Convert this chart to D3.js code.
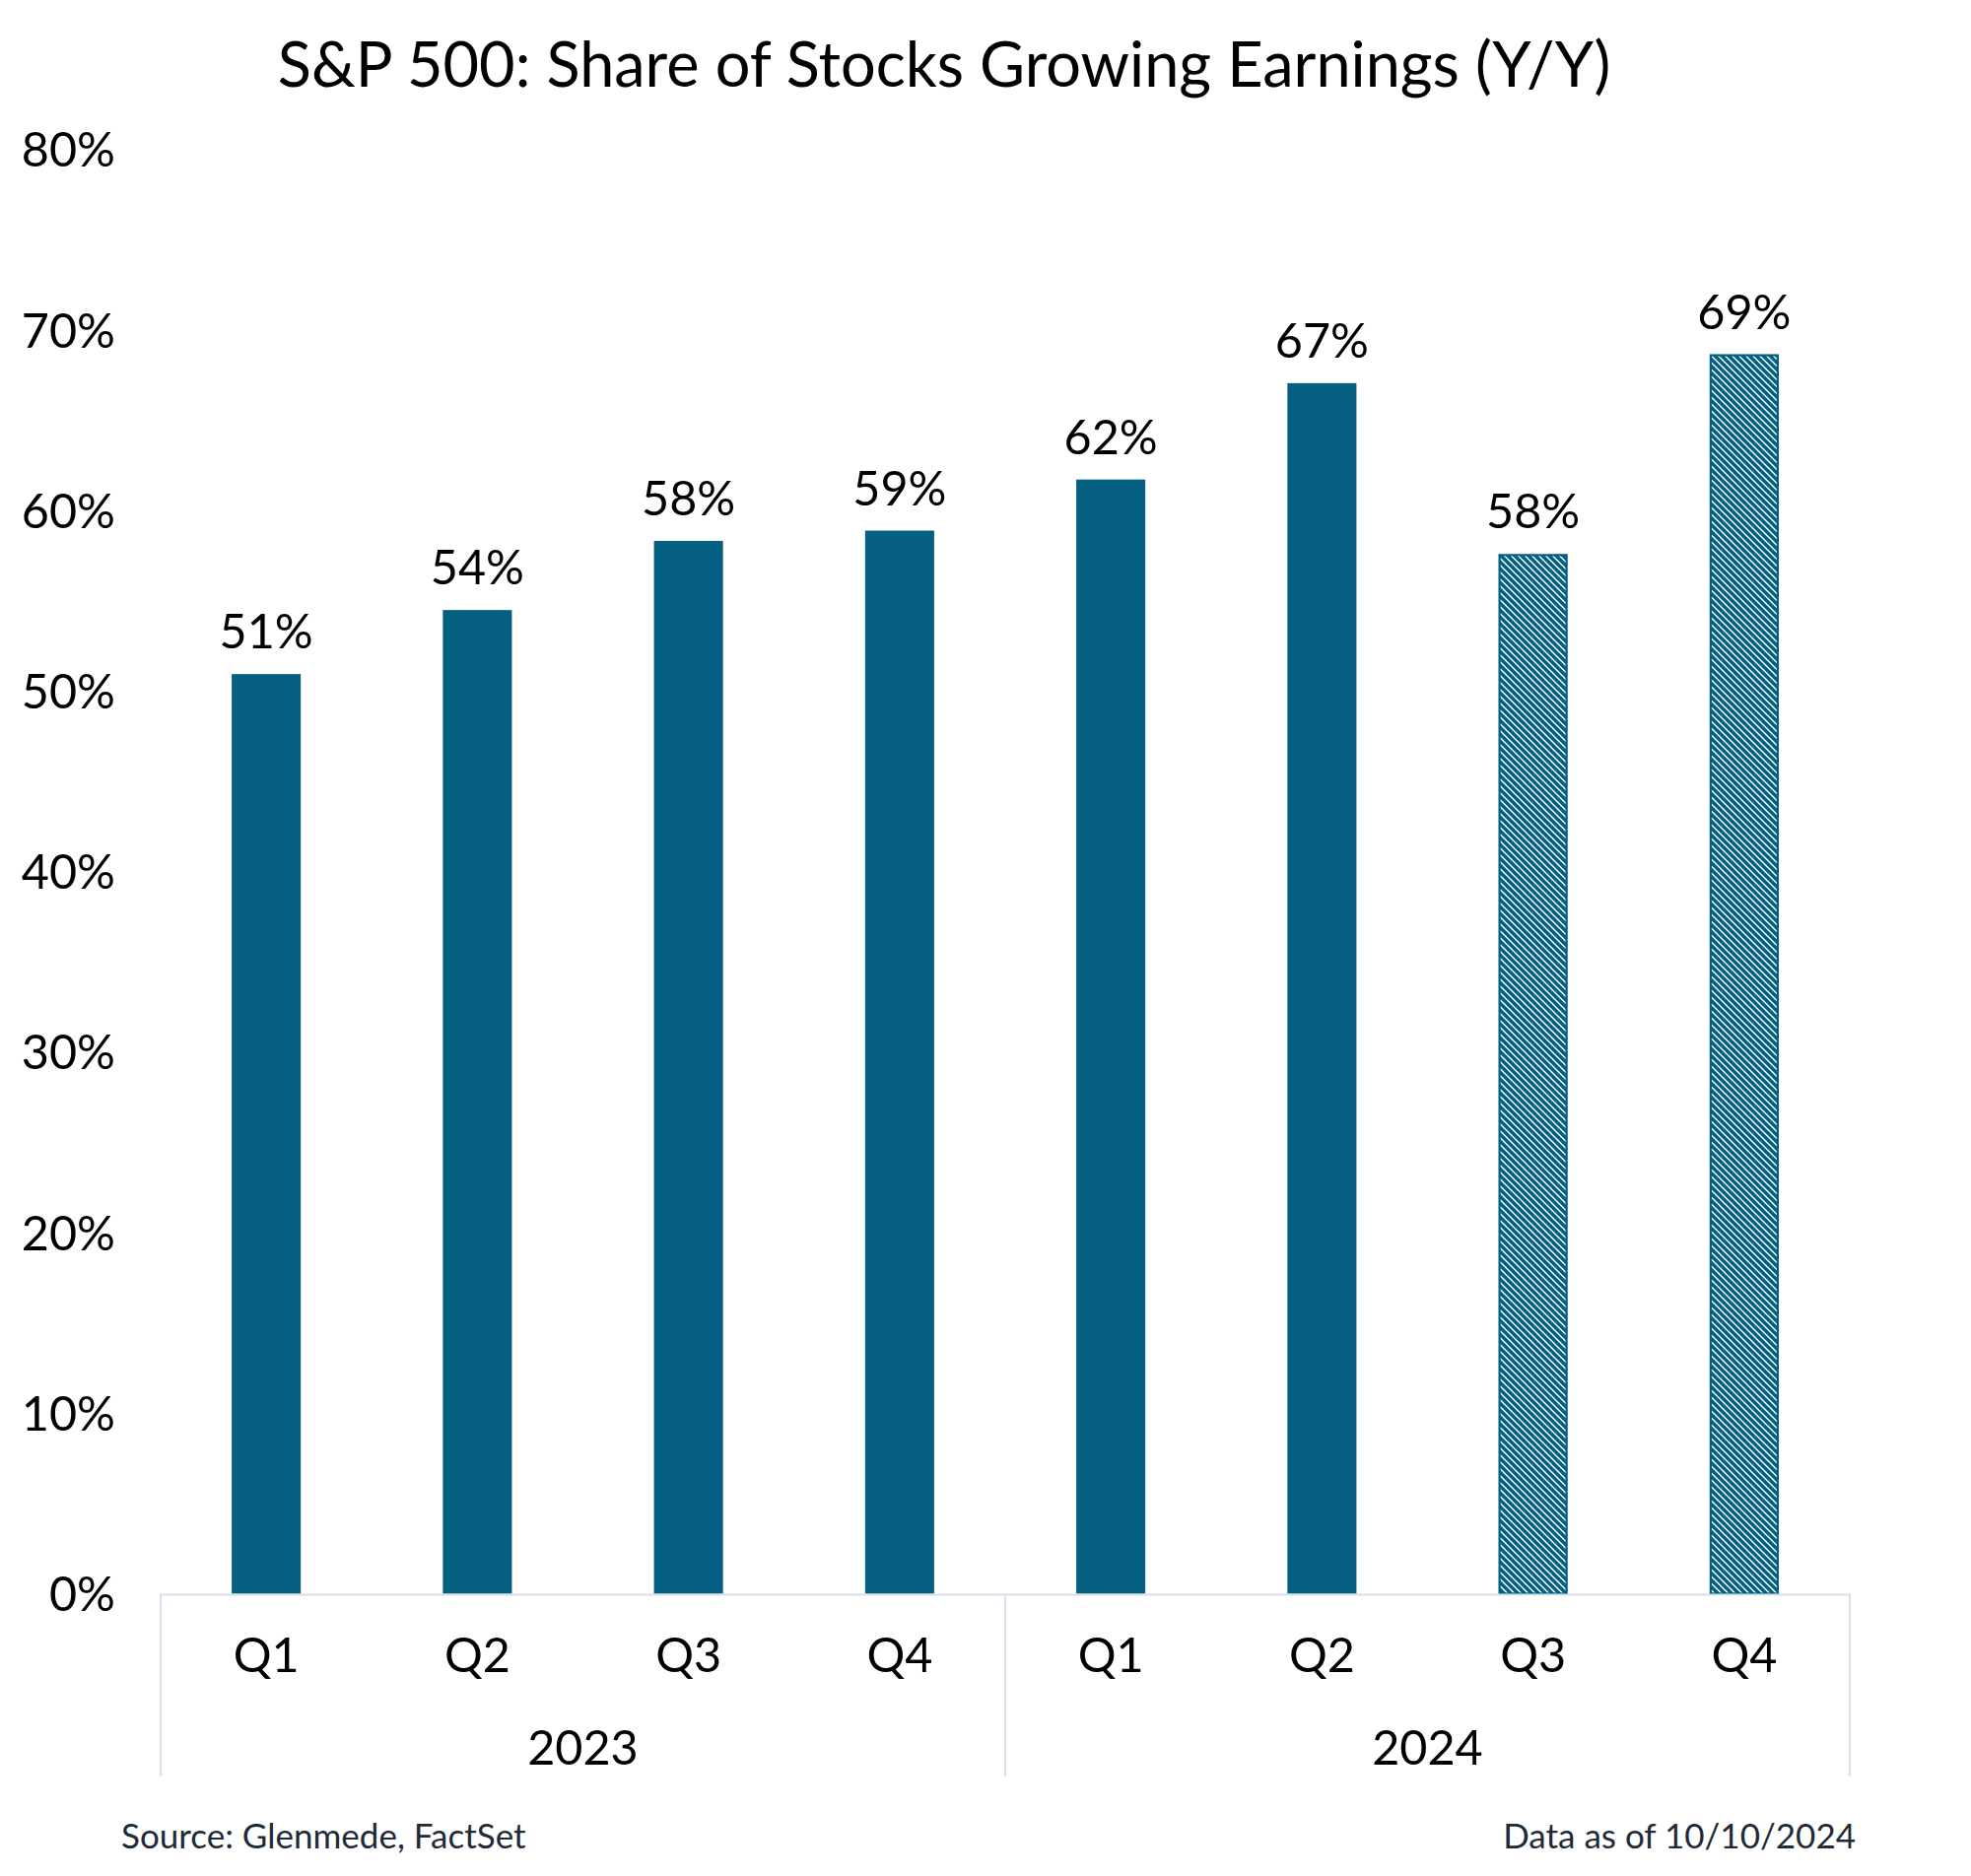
<!DOCTYPE html>
<html>
<head>
<meta charset="utf-8">
<script src="https://cdn.jsdelivr.net/npm/d3@7"></script>
<style>
  html, body { margin: 0; padding: 0; background: #ffffff; }
  svg { display: block; }
</style>
</head>
<body>
<svg id="chart" width="2000" height="1904"></svg>
<script>
// ---- data ----
const quarters = ["Q1", "Q2", "Q3", "Q4", "Q1", "Q2", "Q3", "Q4"];
const years = ["2023", "2023", "2023", "2023", "2024", "2024", "2024", "2024"];
const values = [50.95, 54.5, 58.33, 58.9, 61.73, 67.07, 57.6, 68.67];
const valueLabels = ["51%", "54%", "58%", "59%", "62%", "67%", "58%", "69%"];
const estimated = [false, false, false, false, false, false, true, true];
const yTicks = [0, 10, 20, 30, 40, 50, 60, 70, 80];
const yearGroups = ["2023", "2024"];
const titleText = "S&P 500: Share of Stocks Growing Earnings (Y/Y)";
const sourceText = "Source: Glenmede, FactSet";
const asOfText = "Data as of 10/10/2024";

// ---- layout ----
const barColor = "#045f81";
const gridColor = "#d8e0e9";
const left = 163, right = 1877, zeroY = 1617.5, topY = 152;
const labelSize = 48.5;
const svg = d3.select("#chart");

const keys = quarters.map((q, i) => years[i] + "-" + q);
const x = d3.scaleBand().domain(keys).range([left, right]).paddingInner(0.673).paddingOuter(0.3365);
const y = d3.scaleLinear().domain([0, 80]).range([zeroY, topY]);
const yearX = d3.scaleBand().domain(yearGroups).range([left, right]);

// pattern
const defs = svg.append("defs");
const P = 7;
const pat = defs.append("pattern")
  .attr("id", "hatch").attr("patternUnits", "userSpaceOnUse")
  .attr("width", P).attr("height", P);
pat.append("rect").attr("width", P).attr("height", P).attr("fill", "#ffffff");
pat.append("path")
  .attr("d", `M-2,-2 L${P + 2},${P + 2} M-2,${P - 2} L2,${P + 2} M${P - 2},-2 L${P + 2},2`)
  .attr("stroke", barColor).attr("stroke-width", 3.6);

// title
svg.append("text")
  .attr("x", 958).attr("y", 88)
  .attr("text-anchor", "middle")
  .attr("font-family", "Lato, sans-serif")
  .attr("font-size", 63)
  .attr("fill", "#000")
  .text(titleText);

// y axis labels
const yAxis = d3.axisLeft(y).tickValues(yTicks).tickSize(0).tickPadding(0).tickFormat(d => d + "%");
const yg = svg.append("g").attr("transform", "translate(117,0)").call(yAxis);
yg.select(".domain").remove();
yg.selectAll("text")
  .attr("font-family", "Lato, sans-serif")
  .attr("font-size", labelSize)
  .attr("fill", "#000")
  .attr("dy", "0.35em");

// bars
svg.selectAll("rect.bar")
  .data(values)
  .join("rect")
  .attr("class", "bar")
  .attr("x", (d, i) => x(keys[i]) + (estimated[i] ? 1 : 0))
  .attr("width", (d, i) => x.bandwidth() - (estimated[i] ? 2 : 0))
  .attr("y", (d, i) => y(d) + (estimated[i] ? 1 : 0))
  .attr("height", (d, i) => zeroY - y(d) - (estimated[i] ? 1 : 0))
  .attr("fill", (d, i) => estimated[i] ? "url(#hatch)" : barColor)
  .attr("stroke", (d, i) => estimated[i] ? barColor : "none")
  .attr("stroke-width", 2.2);

// value labels
svg.selectAll("text.val")
  .data(values)
  .join("text")
  .attr("class", "val")
  .attr("x", (d, i) => x(keys[i]) + x.bandwidth() / 2)
  .attr("y", d => y(d) - 26)
  .attr("text-anchor", "middle")
  .attr("font-family", "Lato, sans-serif")
  .attr("font-size", labelSize)
  .attr("fill", "#000")
  .text((d, i) => valueLabels[i]);

// category axis lines
svg.append("line")
  .attr("x1", left).attr("x2", right)
  .attr("y1", zeroY + 1).attr("y2", zeroY + 1)
  .attr("stroke", gridColor).attr("stroke-width", 2);
const seps = [left, ...yearGroups.map(g => yearX(g) + yearX.bandwidth())];
svg.selectAll("line.sep")
  .data(seps)
  .join("line")
  .attr("class", "sep")
  .attr("x1", d => d).attr("x2", d => d)
  .attr("y1", zeroY).attr("y2", 1803)
  .attr("stroke", gridColor).attr("stroke-width", 2);

// quarter labels
svg.selectAll("text.q")
  .data(quarters)
  .join("text")
  .attr("class", "q")
  .attr("x", (d, i) => x(keys[i]) + x.bandwidth() / 2)
  .attr("y", 1697)
  .attr("text-anchor", "middle")
  .attr("font-family", "Lato, sans-serif")
  .attr("font-size", labelSize)
  .attr("fill", "#000")
  .text(d => d);

// year labels
svg.selectAll("text.yr")
  .data(yearGroups)
  .join("text")
  .attr("class", "yr")
  .attr("x", d => yearX(d) + yearX.bandwidth() / 2)
  .attr("y", 1791)
  .attr("text-anchor", "middle")
  .attr("font-family", "Lato, sans-serif")
  .attr("font-size", labelSize)
  .attr("fill", "#000")
  .text(d => d);

// footer
svg.append("text")
  .attr("x", 123).attr("y", 1876)
  .attr("font-family", "Lato, sans-serif")
  .attr("font-size", 35)
  .attr("fill", "#1e2a38")
  .text(sourceText);
svg.append("text")
  .attr("x", 1883).attr("y", 1876)
  .attr("text-anchor", "end")
  .attr("font-family", "Lato, sans-serif")
  .attr("font-size", 35)
  .attr("fill", "#1e2a38")
  .text(asOfText);
</script>
</body>
</html>
